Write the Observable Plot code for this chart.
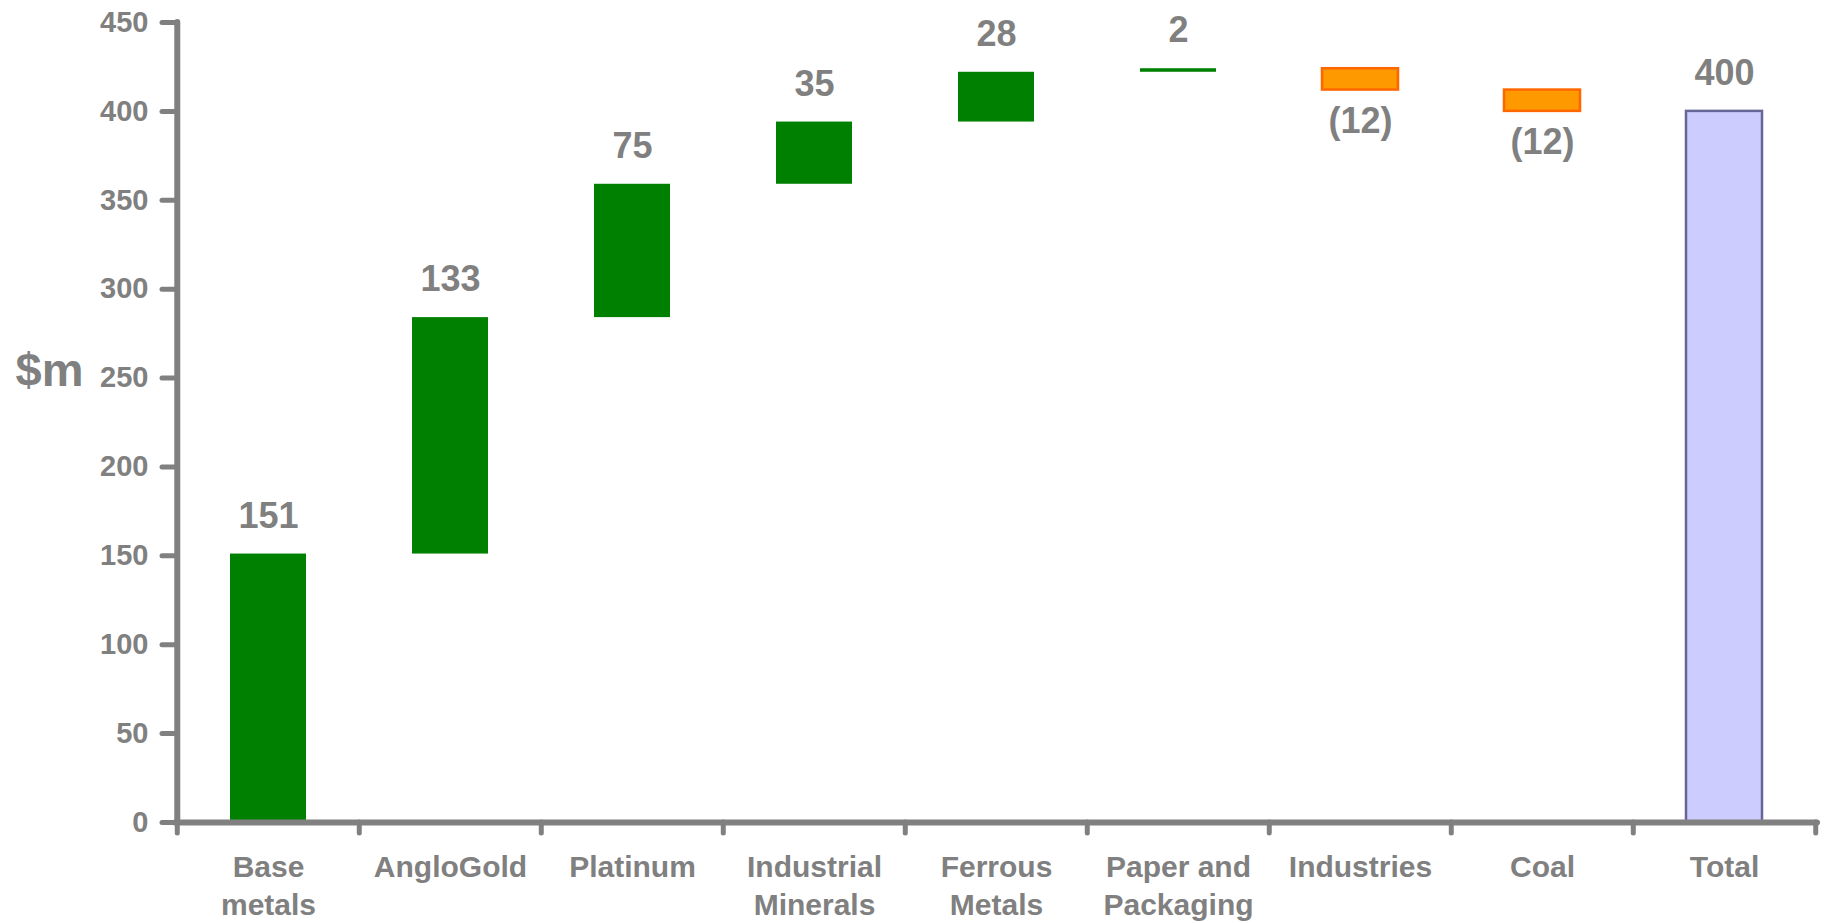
<!DOCTYPE html>
<html><head><meta charset="utf-8">
<script src="https://cdn.jsdelivr.net/npm/d3@7"></script>
<script src="https://cdn.jsdelivr.net/npm/@observablehq/plot@0.6"></script>
<style>
html,body{margin:0;padding:0;background:#fff;}
#chart svg{overflow:visible;}
</style></head><body><div id="chart"></div>
<script>
const categories = ["Base metals","AngloGold","Platinum","Industrial Minerals","Ferrous Metals","Paper and Packaging","Industries","Coal","Total"];
const tickLabels = ["Base\nmetals","AngloGold","Platinum","Industrial\nMinerals","Ferrous\nMetals","Paper and\nPackaging","Industries","Coal","Total"];
const changes = [151,133,75,35,28,2,-12,-12];
const totalValue = 400;
const yTicks = [0,50,100,150,200,250,300,350,400,450];
const yLabel = "$m";

const grey = "#808080";
const W = 1827, H = 923, mL = 175, mR = 10, mT = 22, mB = 101;
const bw = (W - mL - mR) / categories.length;
const inset = 53;

const ends = d3.cumsum(changes);
const rows = changes.map((v, i) => ({cat: categories[i], y1: i ? ends[i-1] : 0, y2: ends[i], v, kind: v >= 0 ? "up" : "down"}));
rows.push({cat: categories[categories.length-1], y1: 0, y2: totalValue, v: totalValue, kind: "total"});

const fmt = v => v < 0 ? `(${Math.abs(v)})` : String(v);

const chart = Plot.plot({
  width: W, height: H,
  marginLeft: mL, marginRight: mR, marginTop: mT, marginBottom: mB,
  style: {fontFamily: "'Liberation Sans', Arial, sans-serif", fontWeight: "bold", background: "#fff"},
  x: {domain: categories, padding: 0, axis: null},
  y: {domain: [0, 450], axis: null},
  marks: [
    Plot.barY(rows.filter(d => d.kind === "up"), {x: "cat", y1: "y1", y2: "y2", fill: "#008000", insetLeft: inset, insetRight: inset}),
    Plot.barY(rows.filter(d => d.kind === "down"), {x: "cat", y1: "y1", y2: "y2", fill: "#FF9900", stroke: "#FF6600", strokeWidth: 2.5, insetLeft: inset, insetRight: inset}),
    Plot.barY(rows.filter(d => d.kind === "total"), {x: "cat", y1: "y1", y2: "y2", fill: "#CCCCFF", stroke: "#666699", strokeWidth: 2.5, insetLeft: inset, insetRight: inset}),
    // value labels
    Plot.text(rows.filter(d => d.v >= 0), {x: "cat", y: "y2", text: d => fmt(d.v), dy: -38, fontSize: 36, fontWeight: "bold", fill: grey}),
    Plot.text(rows.filter(d => d.v < 0), {x: "cat", y: "y2", text: d => fmt(d.v), dy: 31, fontSize: 36, fontWeight: "bold", fill: grey}),
    // y axis
    Plot.axisY({ticks: yTicks, tickSize: 13, tickPadding: 14, fontSize: 29, fontWeight: "bold", fill: grey, stroke: grey, strokeWidth: 5, strokeLinecap: "round", label: null}),
    Plot.ruleX([categories[0]], {y1: 0, y2: 450, dx: -bw/2, stroke: grey, strokeWidth: 6, strokeLinecap: "round"}),
    // x axis baseline and boundary ticks
    Plot.ruleY([0], {stroke: grey, strokeWidth: 6, strokeLinecap: "round"}),
    Plot.ruleX(categories, {dx: -bw/2, insetTop: H - mT - mB, insetBottom: -11, stroke: grey, strokeWidth: 5, strokeLinecap: "round"}),
    Plot.ruleX([categories[categories.length-1]], {dx: bw/2, insetTop: H - mT - mB, insetBottom: -11, stroke: grey, strokeWidth: 5, strokeLinecap: "round"}),
    // x tick labels
    Plot.text(categories, {x: d => d, frameAnchor: "bottom", text: (d, i) => tickLabels[i], lineAnchor: "top", dy: 27, lineHeight: 1.28, fontSize: 30, fontWeight: "bold", fill: grey}),
    // y label
    Plot.text([yLabel], {frameAnchor: "left", text: d => d, dx: -126, dy: -52, textAnchor: "middle", fontSize: 47, fontWeight: "bold", fill: grey})
  ]
});
document.getElementById("chart").appendChild(chart);
</script>
</body></html>
